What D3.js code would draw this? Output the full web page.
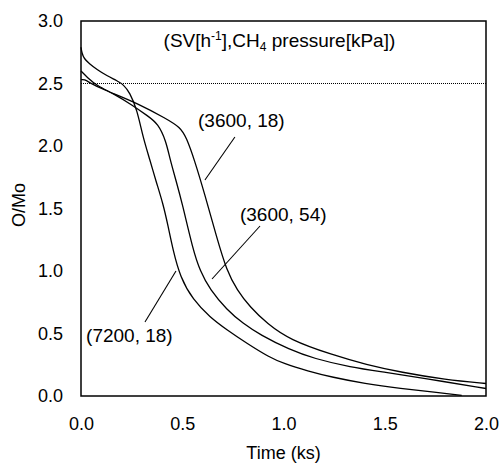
<!DOCTYPE html>
<html>

<head>
    <meta charset="utf-8">
    <title>O/Mo vs time</title>
    <script src="https://cdn.jsdelivr.net/npm/d3@7"></script>
    <style>
        body {
            margin: 0;
            background: #fff;
        }

        text {
            font-family: "Liberation Sans", Arial, sans-serif;
            fill: #000;
        }

        .axis text {
            font-size: 18px;
        }

        .curve {
            fill: none;
            stroke: #000;
            stroke-width: 1.3px;
        }

        .leader {
            stroke: #000;
            stroke-width: 1.1px;
        }
    </style>
</head>

<body>
    <script>
        let width = 499;
        let height = 464;
        let margin = { top: 21, right: 13, bottom: 68, left: 81 };

        // time (ks) and O/Mo, one array per run
        let sv7200_p18_t = [0, 0.005, 0.015, 0.04, 0.08, 0.13, 0.18, 0.21, 0.24, 0.277, 0.306, 0.34, 0.37, 0.405,
            0.43, 0.454, 0.49, 0.553, 0.637, 0.72, 0.82, 0.93, 1.0, 1.12, 1.24, 1.4, 1.58, 1.75, 1.88];
        let sv7200_p18_v = [2.79, 2.74, 2.70, 2.66, 2.61, 2.56, 2.52, 2.49, 2.43, 2.29, 2.07, 1.89, 1.72, 1.54,
            1.36, 1.17, 0.95, 0.77, 0.63, 0.53, 0.42, 0.31, 0.26, 0.20, 0.15, 0.10, 0.06, 0.03, 0.005];

        let sv3600_p54_t = [0, 0.03, 0.08, 0.16, 0.25, 0.33, 0.38, 0.42, 0.44, 0.47, 0.50, 0.553, 0.588, 0.637,
            0.72, 0.80, 0.884, 1.03, 1.15, 1.33, 1.5, 1.7, 2.0];
        let sv3600_p54_v = [2.60, 2.55, 2.48, 2.42, 2.33, 2.24, 2.18, 2.04, 1.89, 1.72, 1.54, 1.17, 1.00, 0.85,
            0.69, 0.58, 0.49, 0.37, 0.30, 0.23, 0.19, 0.14, 0.06];

        let sv3600_p18_t = [0, 0.015, 0.05, 0.10, 0.16, 0.28, 0.42, 0.49, 0.52, 0.56, 0.61, 0.67, 0.72, 0.77,
            0.835, 0.919, 1.03, 1.24, 1.41, 1.58, 1.8, 2.0];
        let sv3600_p18_v = [2.53, 2.535, 2.50, 2.46, 2.42, 2.34, 2.22, 2.15, 2.07, 1.89, 1.62, 1.27, 1.00, 0.85,
            0.71, 0.58, 0.45, 0.33, 0.25, 0.19, 0.13, 0.10];

        let x_ticks = [0, 0.5, 1.0, 1.5, 2.0];
        let y_ticks = [0, 0.5, 1.0, 1.5, 2.0, 2.5, 3.0];
        let ref_level = 2.5;

        // annotation text and leader lines, in data units [t, O/Mo]
        let labels = ["(3600, 18)", "(3600, 54)", "(7200, 18)"];
        let label_at = [[0.578, 2.152], [0.785, 1.40], [0.025, 0.432]];
        let leader_from = [[0.76, 2.072], [0.884, 1.36], [0.316, 0.592]];
        let leader_to = [[0.612, 1.728], [0.647, 0.936], [0.469, 1.0]];

        let svg = d3.select("body").append("svg")
            .attr("width", width)
            .attr("height", height);

        let x_scale = d3.scaleLinear()
            .domain([0, 2])
            .range([margin.left, width - margin.right]);

        let y_scale = d3.scaleLinear()
            .domain([0, 3])
            .range([height - margin.bottom, margin.top]);

        // dotted reference line at 2.5
        svg.append("line")
            .attr("x1", x_scale(0))
            .attr("x2", x_scale(2))
            .attr("y1", y_scale(ref_level))
            .attr("y2", y_scale(ref_level))
            .attr("stroke", "#000")
            .attr("stroke-width", 1)
            .attr("stroke-dasharray", "1,1");

        let series = [
            [sv7200_p18_t, sv7200_p18_v],
            [sv3600_p54_t, sv3600_p54_v],
            [sv3600_p18_t, sv3600_p18_v]
        ];

        let line = d3.line()
            .x(d => x_scale(d[0]))
            .y(d => y_scale(d[1]))
            .curve(d3.curveBasis);

        series.forEach(s => {
            let pts = s[0].map((t, i) => [t, s[1][i]]);
            svg.append("path")
                .attr("class", "curve")
                .attr("d", line(pts));
        });

        // axes, no tick marks
        let x_axis = d3.axisBottom(x_scale)
            .tickValues(x_ticks)
            .tickFormat(d3.format(".1f"))
            .tickSize(0)
            .tickPadding(21);
        svg.append("g")
            .attr("class", "x axis")
            .attr("transform", "translate(0," + y_scale(0) + ")")
            .call(x_axis)
            .call(g => g.select(".domain").remove());

        let y_axis = d3.axisLeft(y_scale)
            .tickValues(y_ticks)
            .tickFormat(d3.format(".1f"))
            .tickSize(0)
            .tickPadding(18);
        svg.append("g")
            .attr("class", "y axis")
            .attr("transform", "translate(" + x_scale(0) + ",0)")
            .call(y_axis)
            .call(g => g.select(".domain").remove());

        svg.selectAll(".axis text").attr("font-family", null).attr("font-size", null);

        // frame
        svg.append("rect")
            .attr("x", x_scale(0))
            .attr("y", y_scale(3))
            .attr("width", x_scale(2) - x_scale(0))
            .attr("height", y_scale(0) - y_scale(3))
            .attr("fill", "none")
            .attr("stroke", "#000")
            .attr("stroke-width", 1.5);

        // axis titles
        svg.append("text")
            .attr("x", (x_scale(0) + x_scale(2)) / 2)
            .attr("y", 459)
            .attr("text-anchor", "middle")
            .attr("font-size", 18)
            .text("Time (ks)");

        svg.append("text")
            .attr("transform", "translate(25," + 205 + ") rotate(-90)")
            .attr("text-anchor", "middle")
            .attr("font-size", 18)
            .text("O/Mo");

        // legend-like title inside the plot
        let title = svg.append("text")
            .attr("x", x_scale(0.98))
            .attr("y", y_scale(2.792))
            .attr("text-anchor", "middle")
            .attr("font-size", 19);
        title.append("tspan").text("(SV[h");
        title.append("tspan").attr("font-size", 12).attr("dy", -7).text("-1");
        title.append("tspan").attr("dy", 7).text("],CH");
        title.append("tspan").attr("font-size", 12).attr("dy", 4).text("4");
        title.append("tspan").attr("dy", -4).text(" pressure[kPa])");

        svg.selectAll(".label")
            .data(labels)
            .join("text")
            .attr("class", "label")
            .attr("x", (d, i) => x_scale(label_at[i][0]))
            .attr("y", (d, i) => y_scale(label_at[i][1]))
            .attr("font-size", 19)
            .text(d => d);

        svg.selectAll(".leader")
            .data(leader_from)
            .join("line")
            .attr("class", "leader")
            .attr("x1", d => x_scale(d[0]))
            .attr("y1", d => y_scale(d[1]))
            .attr("x2", (d, i) => x_scale(leader_to[i][0]))
            .attr("y2", (d, i) => y_scale(leader_to[i][1]));
    </script>
</body>

</html>
